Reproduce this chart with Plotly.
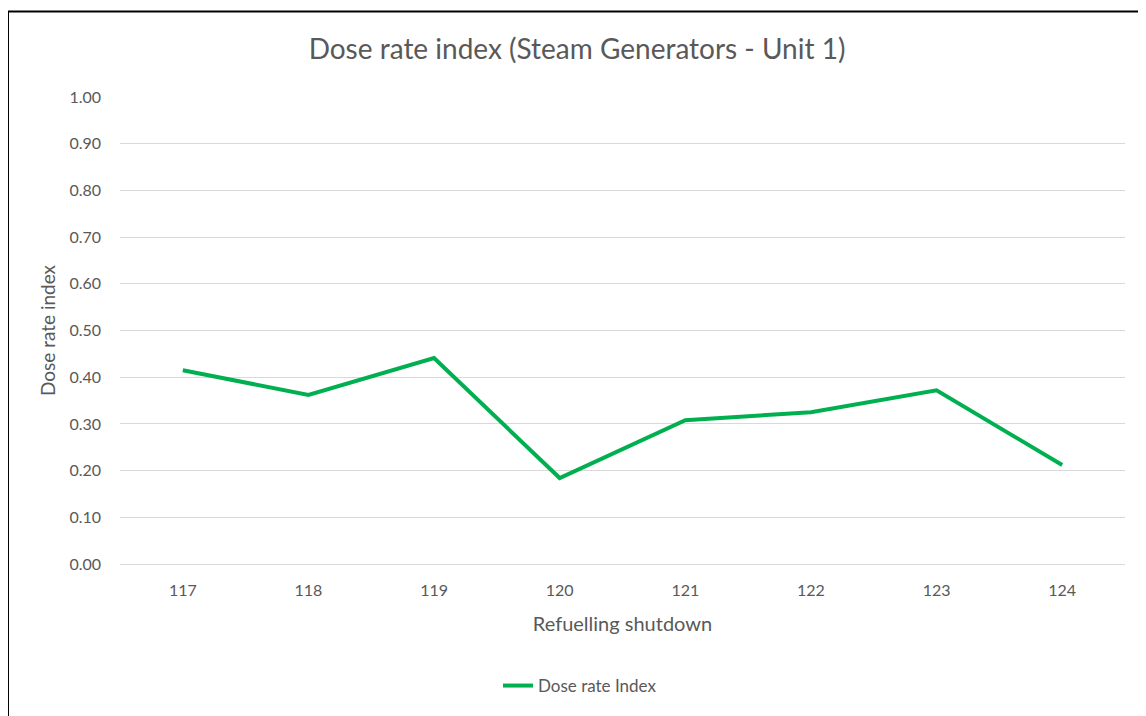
import plotly.graph_objects as go

categories = ["117", "118", "119", "120", "121", "122", "123", "124"]
dose_rate = [0.415, 0.362, 0.441, 0.184, 0.308, 0.325, 0.372, 0.212]
y_ticks = [0.0, 0.1, 0.2, 0.3, 0.4, 0.5, 0.6, 0.7, 0.8, 0.9, 1.0]

FONT = "Lato"
GRAY = "#595959"

# page body has an 8px offset; compensate so marks land at reference pixels
OFF = 8
W, H = 1146 - OFF, 716 - OFF
L = 120 - OFF
T = 97 - OFF
R = W - (1125 - OFF)
B = H - (564 - OFF)
pw, ph = W - L - R, H - T - B


def px_to_paper_x(px):
    return (px - OFF - L) / pw


def px_to_paper_y(py):
    return 1 + (T - (py - OFF)) / ph


fig = go.Figure()
fig.add_trace(go.Scatter(
    x=categories, y=dose_rate, mode="lines", name="Dose rate Index",
    line=dict(color="#00B050", width=4),
))

fig.update_layout(
    width=W, height=H,
    margin=dict(l=L, r=R, t=T, b=B),
    paper_bgcolor="white", plot_bgcolor="white",
    font=dict(family=FONT, color=GRAY, size=15),
    title=dict(text="Dose rate index (Steam Generators - Unit 1)",
               x=(577 - OFF) / W, xref="container", xanchor="center",
               y=1 - (49 - OFF) / H, yanchor="middle",
               font=dict(size=28, color=GRAY, family=FONT)),
    showlegend=True,
    legend=dict(orientation="h", x=px_to_paper_x(580), xanchor="center",
                y=px_to_paper_y(686), yanchor="middle",
                font=dict(size=17, color=GRAY)),
    xaxis=dict(type="category", range=[-0.5, 7.5], showgrid=False,
               showline=True, linecolor="#D9D9D9", linewidth=1,
               ticks="", ticklabelstandoff=12,
               title=dict(text="Refuelling shutdown", font=dict(size=20, color=GRAY), standoff=18),
               tickfont=dict(size=16, color=GRAY)),
    yaxis=dict(range=[0, 1.0], tickvals=y_ticks, tickformat=".2f",
               showgrid=True, gridcolor="#D9D9D9", gridwidth=1,
               zeroline=False, showline=False, ticks="", ticklabelstandoff=18,
               title=dict(text="Dose rate index", font=dict(size=19, color=GRAY), standoff=8),
               tickfont=dict(size=16, color=GRAY)),
    shapes=[
        dict(type="line", xref="paper", yref="paper",
             x0=px_to_paper_x(8), x1=px_to_paper_x(8),
             y0=px_to_paper_y(730), y1=px_to_paper_y(11),
             line=dict(color="black", width=2)),
        dict(type="line", xref="paper", yref="paper",
             x0=px_to_paper_x(7), x1=px_to_paper_x(1160),
             y0=px_to_paper_y(11.5), y1=px_to_paper_y(11.5),
             line=dict(color="black", width=2)),
    ],
)

fig.write_html("out.html")
